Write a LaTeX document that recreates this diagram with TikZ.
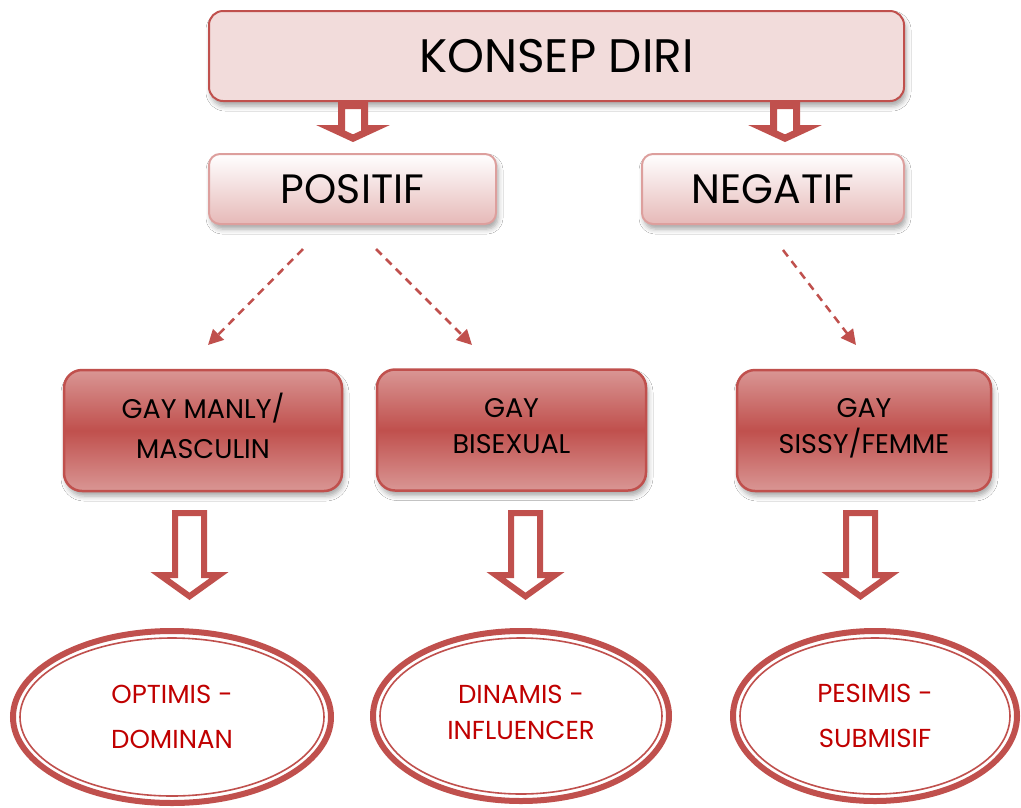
\documentclass[tikz,border=0pt]{standalone}
\usepackage{fontspec}
\setmainfont{Poppins}
\usetikzlibrary{arrows.meta,shapes.geometric,shadows.blur}

\definecolor{accent}{HTML}{C0504D}
\definecolor{accentlight}{HTML}{D99694}
\definecolor{palepink}{HTML}{F2DCDB}
\definecolor{rosy}{HTML}{E6B9B8}
\definecolor{labelred}{HTML}{C00000}

\tikzset{
  softshadow/.style={blur shadow={shadow xshift=2pt, shadow yshift=-5pt,
      shadow blur radius=5pt, shadow opacity=35}},
  rootbox/.style={draw=accent, line width=2pt, fill=palepink,
      rounded corners=14pt, minimum width=695pt, minimum height=90pt,
      inner sep=0pt, font=\fontsize{47}{52}\selectfont, softshadow},
  polebox/.style={draw=rosy!75!accent, line width=2pt, top color=white,
      bottom color=rosy, rounded corners=11pt, minimum height=70pt,
      inner sep=0pt, font=\fontsize{41}{46}\selectfont, softshadow},
  typebox/.style={draw=accent, line width=2.5pt, top color=accentlight,
      bottom color=accentlight, middle color=accent, rounded corners=18pt,
      minimum height=121pt, inner sep=0pt, align=center, text depth=9pt,
      softshadow},
  outcome/.style={ellipse, draw=accent, line width=6pt, inner sep=0pt,
      align=center, text=labelred},
  innerring/.style={draw=accent, line width=1.6pt},
  hint/.style={draw=accent, line width=2.5pt, dash pattern=on 8pt off 6pt,
      -{Triangle[length=15pt,width=15pt]}},
  hollow/.style={draw=accent, fill=white, line join=miter},
  toparrow/.pic={\draw[hollow, line width=7pt]
      (-11.5,-3.5) -- (-11.5,-26.5) -- (-21,-26.5) -- (0,-36.2)
      -- (21,-26.5) -- (11.5,-26.5) -- (11.5,-3.5) -- cycle;},
  lowarrow/.pic={\draw[hollow, line width=6pt]
      (-14.5,-3) -- (-14.5,-65) -- (-29.7,-65) -- (0,-86.3)
      -- (29.7,-65) -- (14.5,-65) -- (14.5,-3) -- cycle;},
}

\begin{document}
\begin{tikzpicture}[x=1pt, y=1pt]
  \useasboundingbox[fill=white] (0,0) rectangle (1021,-807);

  % root concept
  \node[rootbox] (root) at (556.5,-56) {KONSEP DIRI};

  % positive / negative branches
  \node[polebox, minimum width=287pt] (pos) at (352.5,-189) {POSITIF};
  \node[polebox, minimum width=262pt] (neg) at (773,-189) {NEGATIF};

  % hollow arrows from the root
  \coordinate (ta1) at (353,-102);
  \coordinate (ta2) at (785,-102);
  \pic at (ta1) {toparrow};
  \pic at (ta2) {toparrow};

  % types
  \node[typebox, minimum width=278pt, font=\fontsize{27}{40}\selectfont]
    (manly) at (203,-430.5) {GAY MANLY/\\MASCULIN};
  \node[typebox, minimum width=269pt, font=\fontsize{27}{36}\selectfont]
    (bi) at (511.5,-430) {GAY\\BISEXUAL};
  \node[typebox, minimum width=254pt, font=\fontsize{27}{36}\selectfont]
    (sissy) at (864,-430.5) {GAY\\SISSY/FEMME};

  % dashed hints from the branches to the types
  \coordinate (h1s) at (303,-249);
  \coordinate (h1e) at (208,-345);
  \coordinate (h2s) at (376,-249);
  \coordinate (h2e) at (472,-345);
  \coordinate (h3s) at (783,-250);
  \coordinate (h3e) at (856,-345);
  \draw[hint] (h1s) -- (h1e);
  \draw[hint] (h2s) -- (h2e);
  \draw[hint] (h3s) -- (h3e);

  % hollow arrows down to the outcomes
  \coordinate (la1) at (189.5,-510);
  \coordinate (la2) at (525.5,-510);
  \coordinate (la3) at (860.5,-510);
  \pic at (la1) {lowarrow};
  \pic at (la2) {lowarrow};
  \pic at (la3) {lowarrow};

  % outcomes
  \node[outcome, minimum width=318pt, minimum height=172pt,
        font=\fontsize{26}{45}\selectfont]
    (opt) at (172,-717) {OPTIMIS -\\DOMINAN};
  \draw[innerring] (opt.center) ellipse [x radius=152, y radius=79];

  \node[outcome, minimum width=296pt, minimum height=170pt, text depth=8pt,
        font=\fontsize{26}{36}\selectfont]
    (din) at (521,-716) {DINAMIS -\\INFLUENCER};
  \draw[innerring] (din.center) ellipse [x radius=141, y radius=78];

  \node[outcome, minimum width=284pt, minimum height=170pt,
        font=\fontsize{26}{45}\selectfont]
    (pes) at (875,-716) {PESIMIS -\\SUBMISIF};
  \draw[innerring] (pes.center) ellipse [x radius=135, y radius=78];
\end{tikzpicture}
\end{document}
